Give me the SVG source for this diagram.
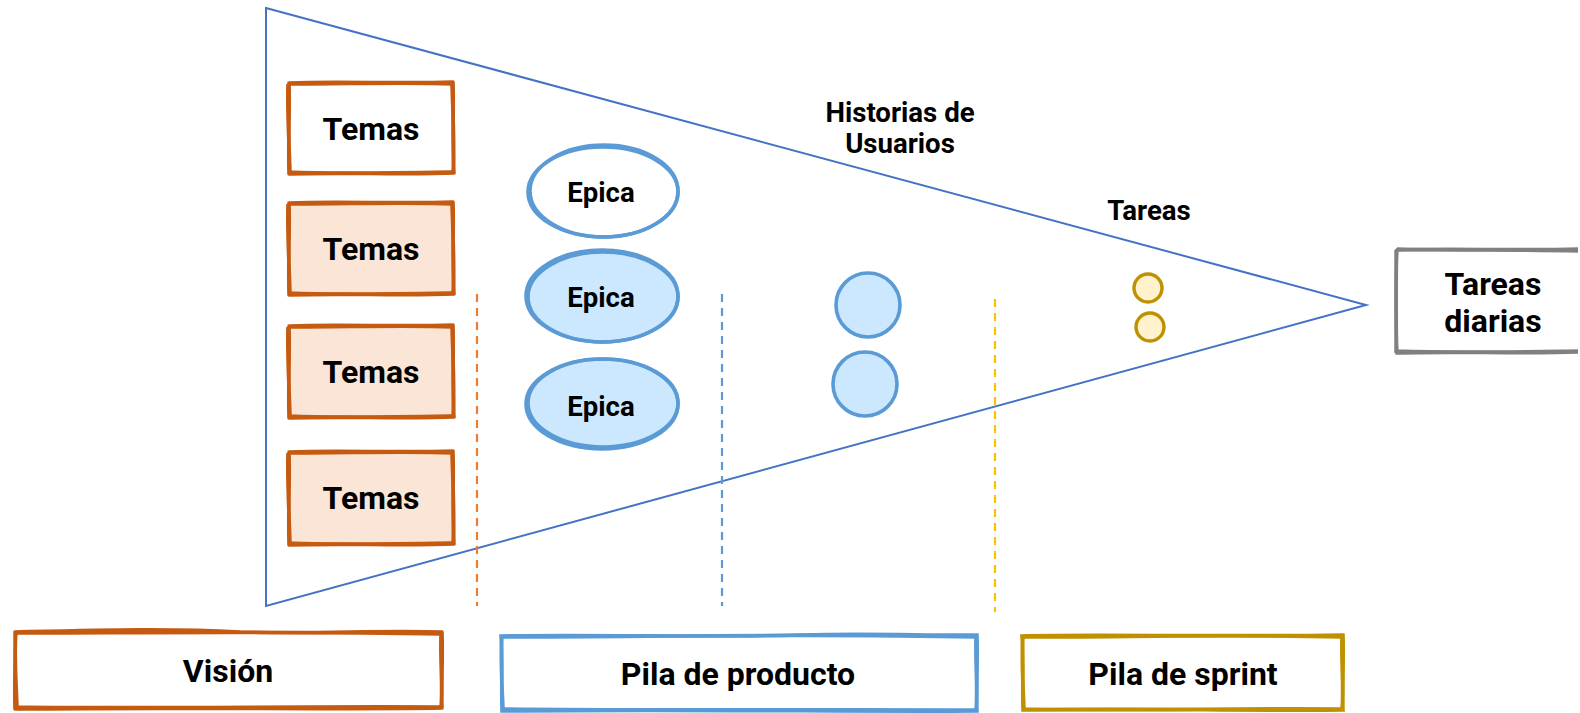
<svg xmlns="http://www.w3.org/2000/svg" width="1580" height="713" viewBox="0 0 1580 713">
<style>
text{font-family:Roboto,"Liberation Sans",sans-serif;font-weight:bold;fill:#000;text-anchor:middle}
.big{font-size:32px}
.mid{font-size:27.6px}
.or{fill:none;stroke:#c55a11;stroke-width:3.6;stroke-linejoin:round}
.orf{fill:#fbe5d6;stroke:none}
.bl{fill:none;stroke:#5b9bd5;stroke-width:3.6}
.blf{fill:#cce8ff;stroke:none}
.gd{fill:none;stroke:#bf9000;stroke-width:3.6}
.gr{fill:none;stroke:#808080;stroke-width:3.6}
.dash{stroke-width:2.2;stroke-dasharray:8 6;fill:none}
</style>
<rect width="1580" height="713" fill="#fff"/>
<g id="funnel">
<path d="M266,8 L1366,305 L266,606 Z" fill="none" stroke="#4472c4" stroke-width="2"/>
</g>
<g id="connectors">
<line class="dash" x1="477" y1="294" x2="477" y2="606" stroke="#ed7d31"/>
<line class="dash" x1="722" y1="294" x2="722" y2="606" stroke="#5b9bd5"/>
<line class="dash" x1="995" y1="299" x2="995" y2="612" stroke="#ffc000"/>
</g>
<g id="temas1">
<path class="or" d="M289,83 C340,81 400,84 453,82 C454,110 452,140 454,173 C400,175 340,172 289,174 C288,140 290,110 289,83 Z"/>
<path class="or" d="M288,84 C350,84 410,82 452,84 C453,120 455,150 453,172 C390,173 330,174 290,172 C289,140 287,110 288,84" stroke-width="2"/>
<text class="big" x="371" y="140">Temas</text>
</g>
<g id="temas2">
<rect class="orf" x="289" y="203" width="164" height="91"/>
<path class="or" d="M289,203 C340,201 400,204 453,202 C454,230 452,260 454,294 C400,296 340,293 289,295 C288,260 290,230 289,203 Z"/>
<path class="or" d="M288,204 C350,204 410,202 452,204 C453,240 455,270 453,293 C390,294 330,295 290,293 C289,260 287,230 288,204" stroke-width="2"/>
<text class="big" x="371" y="260">Temas</text>
</g>
<g id="temas3">
<rect class="orf" x="289" y="326" width="164" height="91"/>
<path class="or" d="M289,326 C340,324 400,327 453,325 C454,353 452,383 454,417 C400,419 340,416 289,418 C288,383 290,353 289,326 Z"/>
<path class="or" d="M288,327 C350,327 410,325 452,327 C453,363 455,393 453,416 C390,417 330,418 290,416 C289,383 287,353 288,327" stroke-width="2"/>
<text class="big" x="371" y="383">Temas</text>
</g>
<g id="temas4">
<rect class="orf" x="289" y="452" width="164" height="92"/>
<path class="or" d="M289,452 C340,450 400,453 453,451 C454,480 452,510 454,544 C400,546 340,543 289,545 C288,510 290,480 289,452 Z"/>
<path class="or" d="M288,453 C350,453 410,451 452,453 C453,490 455,520 453,543 C390,544 330,545 290,543 C289,510 287,480 288,453" stroke-width="2"/>
<text class="big" x="371" y="509">Temas</text>
</g>
<g id="epica1">
<ellipse class="bl" cx="603" cy="192" rx="75" ry="45"/>
<ellipse class="bl" cx="604" cy="191" rx="74" ry="46" stroke-width="1.5"/>
<text class="mid" x="601" y="202">Epica</text>
</g>
<g id="epica2">
<ellipse class="blf" cx="603" cy="297" rx="75" ry="45"/>
<ellipse class="bl" cx="603" cy="297" rx="75" ry="45"/>
<ellipse class="bl" cx="602" cy="296" rx="76" ry="46" stroke-width="1.5"/>
<text class="mid" x="601" y="307">Epica</text>
</g>
<g id="epica3">
<ellipse class="blf" cx="603" cy="403" rx="75" ry="44"/>
<ellipse class="bl" cx="603" cy="403" rx="75" ry="44"/>
<ellipse class="bl" cx="602" cy="404" rx="76" ry="45" stroke-width="1.5"/>
<text class="mid" x="601" y="416">Epica</text>
</g>
<g id="historia1">
<circle class="blf" cx="868" cy="305" r="32"/>
<circle class="bl" cx="868" cy="305" r="32"/>
</g>
<g id="historia2">
<circle class="blf" cx="865" cy="384" r="32"/>
<circle class="bl" cx="865" cy="384" r="32"/>
</g>
<g id="tarea1">
<circle cx="1148" cy="288" r="14" fill="#fff2cc" stroke="#bf9000" stroke-width="3.4"/>
</g>
<g id="tarea2">
<circle cx="1150" cy="327" r="14" fill="#fff2cc" stroke="#bf9000" stroke-width="3.4"/>
</g>
<g id="label-historias">
<text class="mid" x="900" y="122">Historias de</text>
<text class="mid" x="900" y="153">Usuarios</text>
</g>
<g id="label-tareas">
<text class="mid" x="1149" y="220">Tareas</text>
</g>
<g id="tareas-diarias">
<rect x="1396" y="249" width="182" height="103" fill="#fff"/>
<path class="gr" d="M1396,250 C1450,248 1520,251 1578,249 M1578,352 C1520,354 1450,351 1397,353 C1395,320 1397,280 1396,250"/>
<path class="gr" d="M1397,249 C1460,251 1520,249 1578,251 M1578,351 C1510,352 1460,353 1396,351 C1397,310 1395,280 1397,249" stroke-width="2"/>
<text class="big" x="1493" y="295">Tareas</text>
<text class="big" x="1493" y="332">diarias</text>
</g>
<g id="vision">
<path class="or" d="M15,632 C100,630 170,628 240,632 C320,634 380,630 442,632 C443,660 441,690 442,708 C330,710 200,707 15,709 C14,680 16,650 15,632 Z"/>
<path class="or" d="M16,633 C120,633 300,631 441,634 C440,660 443,690 441,707 C300,706 150,709 17,707 C16,680 14,650 16,633" stroke-width="2"/>
<text class="big" x="228" y="682">Visión</text>
</g>
<g id="pila-producto">
<path class="bl" d="M501,636 C600,634 700,638 800,635 C880,633 930,636 977,635 C978,660 976,690 977,711 C850,712 700,709 502,711 C501,680 503,660 501,636 Z"/>
<path class="bl" d="M502,637 C650,637 800,633 976,637 C975,660 978,690 976,710 C800,709 650,711 503,709 C502,680 500,660 502,637" stroke-width="2"/>
<text class="big" x="738" y="685">Pila de producto</text>
</g>
<g id="pila-sprint">
<path class="gd" d="M1022,636 C1100,634 1200,637 1343,635 C1344,660 1342,690 1343,710 C1240,711 1130,708 1023,710 C1022,680 1024,660 1022,636 Z"/>
<path class="gd" d="M1023,637 C1130,637 1230,634 1342,637 C1341,660 1344,690 1342,709 C1230,708 1130,711 1024,709 C1023,680 1021,660 1023,637" stroke-width="2"/>
<text class="big" x="1183" y="685">Pila de sprint</text>
</g>
</svg>
